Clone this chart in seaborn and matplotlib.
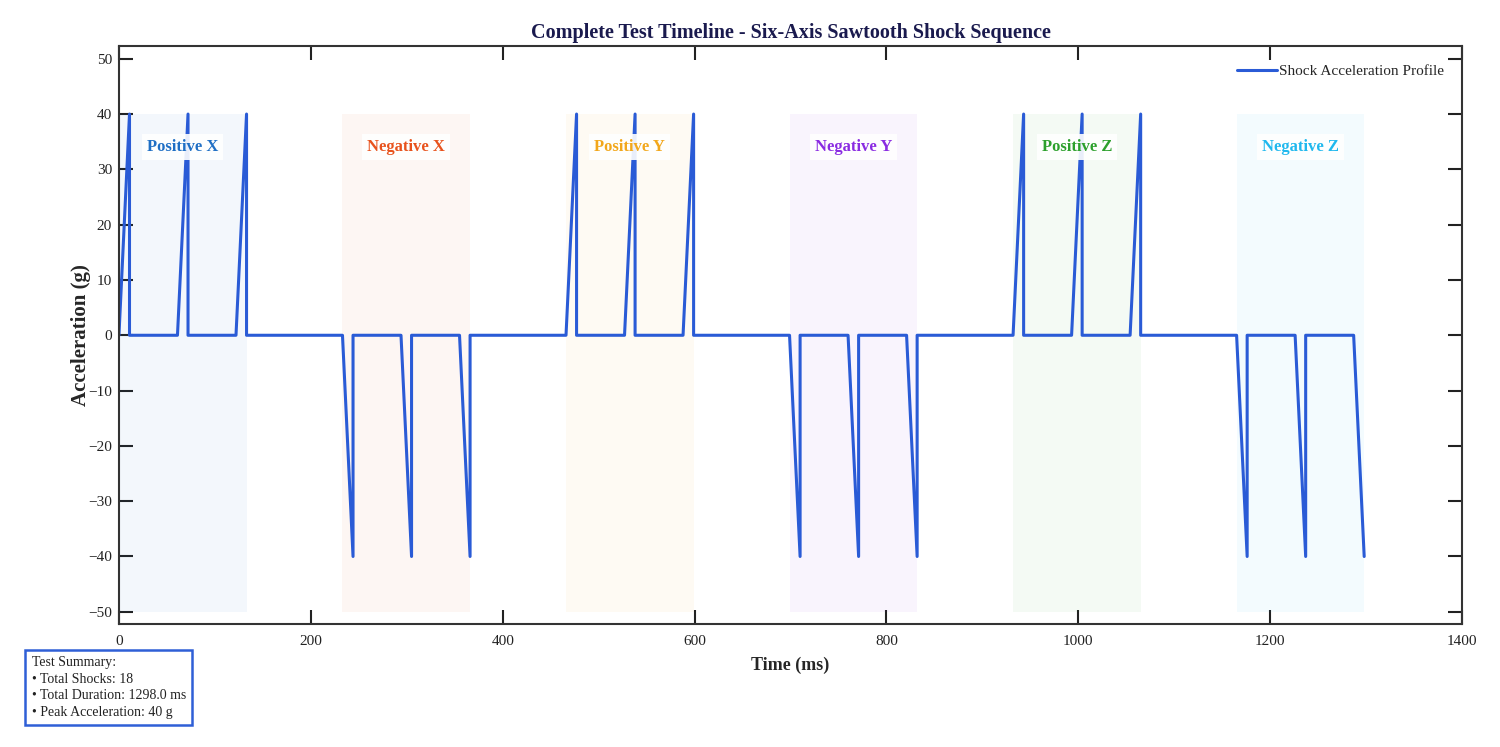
import numpy as np
import pandas as pd
import matplotlib
matplotlib.use("Agg")
import matplotlib.pyplot as plt
import seaborn as sns

# Test axes and their shaded windows (ms)
axis_names = ["Positive X", "Negative X", "Positive Y", "Negative Y", "Positive Z", "Negative Z"]
axis_colors = ["#1f6fc5", "#e8521c", "#f2a71b", "#8a2be2", "#2ca02c", "#1fb8ee"]
axis_start = [0, 233, 466, 699, 932, 1165]
axis_end = [133, 366, 599, 832, 1065, 1298]

# Individual shocks: start time (ms) and peak acceleration (g)
shock_start = [0, 61, 122, 233, 294, 355, 466, 527, 588,
               699, 760, 821, 932, 993, 1054, 1165, 1226, 1287]
shock_peak = [40, 40, 40, -40, -40, -40, 40, 40, 40,
              -40, -40, -40, 40, 40, 40, -40, -40, -40]
shock_duration = 11

# Build the sawtooth profile vertices from the shock list
t_pts, a_pts = [], []
for i, (s, p) in enumerate(zip(shock_start, shock_peak)):
    t_pts += [s, s + shock_duration]
    a_pts += [0, p]
    if i < len(shock_start) - 1:
        t_pts.append(s + shock_duration)
        a_pts.append(0)
profile = pd.DataFrame({"time": t_pts, "accel": a_pts})

sns.set_theme(style="ticks")
plt.rcParams['font.family'] = ['Liberation Serif', 'DejaVu Serif']

fig = plt.figure(figsize=(15, 7.47), dpi=100)
ax = fig.add_axes([0.0793, 0.1647, 0.8954, 0.7737])

# Shaded windows and labels for each axis
for name, col, a0, a1 in zip(axis_names, axis_colors, axis_start, axis_end):
    ax.fill_between([a0, a1], -50, 40, color=col, alpha=0.05, linewidth=0)
    ax.text((a0 + a1) / 2, 34, name, color=col, fontsize=12, fontweight='bold',
            ha='center', va='center',
            bbox=dict(boxstyle='square,pad=0.3', facecolor='white', edgecolor='none', alpha=0.9))

sns.lineplot(data=profile, x="time", y="accel", sort=False, estimator=None,
             color="#2a5bd6", linewidth=2.2, label="Shock Acceleration Profile", ax=ax)

ax.set_xlim(0, 1400)
ax.set_ylim(-52.2, 52.3)
ax.set_xticks(np.arange(0, 1401, 200))
ax.set_yticks(np.arange(-50, 51, 10))
ax.tick_params(direction='in', length=10, width=1.5, top=True, right=True,
               labelsize=11, colors='#222222')
ax.tick_params(axis='x', pad=8)
ax.tick_params(axis='y', pad=5)
for sp in ax.spines.values():
    sp.set_linewidth(1.5)
    sp.set_color('#333333')

ax.set_title("Complete Test Timeline - Six-Axis Sawtooth Shock Sequence",
             fontsize=14.5, fontweight='bold', color='#1a1a4e', pad=6)
ax.set_xlabel("Time (ms)", fontsize=13, fontweight='bold', labelpad=6)
ax.set_ylabel("Acceleration (g)", fontsize=15, fontweight='bold', labelpad=-2)

ax.legend(loc='upper right', frameon=False, fontsize=11, handlelength=2.6,
          handletextpad=0.1, borderaxespad=0.8)

summary = ("Test Summary:\n"
           f"\u2022 Total Shocks: {len(shock_start)}\n"
           f"\u2022 Total Duration: {axis_end[-1]:.1f} ms\n"
           f"\u2022 Peak Acceleration: {max(shock_peak)} g")
fig.text(0.021, 0.038, summary, fontsize=10, color='#222222', ha='left', va='bottom',
         linespacing=1.35,
         bbox=dict(boxstyle='square,pad=0.45', facecolor='white', edgecolor='#2f5fd6', linewidth=1.8))

fig.savefig("out.png", dpi=100)
